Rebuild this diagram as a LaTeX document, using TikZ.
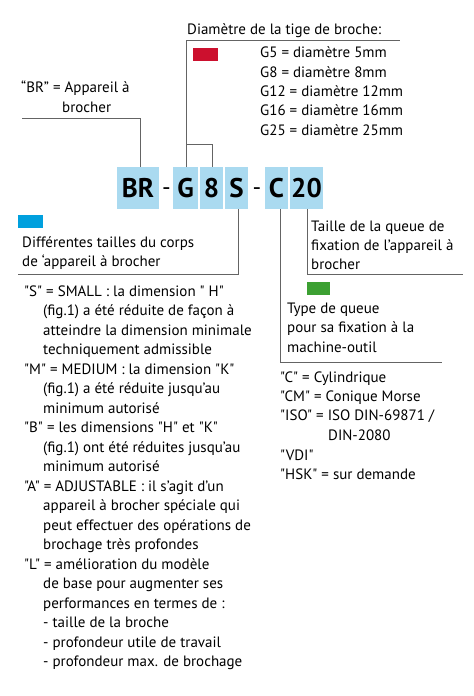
\documentclass[tikz,border=0pt]{standalone}
\usepackage{fontspec}
\setmainfont{PT Sans}[Ligatures=TeXOff]
\definecolor{boxblue}{RGB}{170,218,240}
\definecolor{redm}{RGB}{204,16,46}
\definecolor{bluem}{RGB}{0,160,222}
\definecolor{greenm}{RGB}{60,160,50}
\definecolor{linegray}{RGB}{100,100,100}
\begin{document}
\begin{tikzpicture}[x=1bp,y=-1bp,
  txt/.style={anchor=base west,inner sep=0pt,font=\fontsize{15bp}{18bp}\selectfont},
  box/.style={fill=boxblue,minimum height=42bp,inner sep=0pt,font=\fontsize{27bp}{30bp}\selectfont\bfseries},
  hyph/.style={anchor=base,inner sep=0pt,font=\fontsize{24bp}{28bp}\selectfont},
  conn/.style={draw=linegray,line width=0.8bp}]
\useasboundingbox (0,0) rectangle (474,696);
% code boxes
\node[box,minimum width=42bp] (BR) at (138,188) {BR};
\node[hyph] (d1) at (166.5,195) {-};
\node[box,minimum width=25bp] (G) at (185.5,188) {G};
\node[box,minimum width=23bp] (N8) at (211.5,188) {8};
\node[box,minimum width=23bp] (S) at (236.5,188) {S};
\node[hyph] (d2) at (257,195) {-};
\node[box,minimum width=23bp] (C) at (276.5,188) {C};
\node[box,minimum width=33bp] (N20) at (306.5,188) {20};
% top-left label
\node[txt] (br1) at (21,93) {“BR” = Appareil à};
\node[txt] (br2) at (62,113) {brocher};
\coordinate (brL) at (22,118);
\draw[conn] (BR.north -| 140,0) |- (brL);
% diameter
\node[txt] (dt) at (187,35) {Diamètre de la tige de broche:};
\coordinate (dtR) at (400,40);
\draw[conn] (G.north -| 186,0) |- (dtR);
\coordinate (gb) at (186,144);
\draw[conn] (gb) -| (N8.north -| 212,0);
\fill[redm] (193,48) rectangle (218,61);
\node[txt] (g5) at (260,58) {G5 = diamètre 5mm};
\node[txt] (g8) at (260,77.3) {G8 = diamètre 8mm};
\node[txt] (g12) at (260,96.6) {G12 = diamètre 12mm};
\node[txt] (g16) at (260,116) {G16 = diamètre 16mm};
\node[txt] (g25) at (260,135.3) {G25 = diamètre 25mm};
% body sizes
\fill[bluem] (18,215) rectangle (43,228);
\node[txt] (df1) at (22,247) {Différentes tailles du corps};
\node[txt] (df2) at (22,266) {de ‘appareil à brocher};
\coordinate (sL) at (18,274);
\draw[conn] (S.south -| 238,0) |- (sL);
% left list
\foreach \t/\xx [count=\i from 0] in {
 {"S" = SMALL : la dimension " H"}/24,
 {(fig.1) a été réduite de façon à}/43,
 {atteindre la dimension minimale}/43,
 {techniquement admissible}/43,
 {"M" = MEDIUM : la dimension "K"}/24,
 {(fig.1) a été réduite jusqu’au}/43,
 {minimum autorisé}/43,
 {"B" = les dimensions "H" et "K"}/24,
 {(fig.1) ont été réduites jusqu’au}/43,
 {minimum autorisé}/43,
 {"A" = ADJUSTABLE : il s’agit d’un}/24,
 {appareil à brocher spéciale qui}/43,
 {peut effectuer des opérations de}/43,
 {brochage très profondes}/43,
 {"L" = amélioration du modèle}/24,
 {de base pour augmenter ses}/43,
 {performances en termes de :}/43,
 {- taille de la broche}/43,
 {- profondeur utile de travail}/43,
 {- profondeur max. de brochage}/43}
 {\node[txt] (l\i) at (\xx,296+19.5*\i) {\t};}
% shank size
\node[txt] (ts1) at (311,231) {Taille de la queue de};
\node[txt] (ts2) at (311,250) {fixation de l’appareil à};
\node[txt] (ts3) at (311,269) {brocher};
\coordinate (tsR) at (463,274);
\draw[conn] (N20.south -| 307,0) |- (tsR);
% shank type
\fill[greenm] (307,282) rectangle (330,295);
\node[txt] (ty1) at (287,313) {Type de queue};
\node[txt] (ty2) at (287,332) {pour sa fixation à la};
\node[txt] (ty3) at (287,352) {machine-outil};
\coordinate (tyR) at (442,362);
\draw[conn] (C.south -| 280,0) |- (tyR);
\node[txt] (c1) at (280,382) {"C" = Cylindrique};
\node[txt] (c2) at (280,401) {"CM" = Conique Morse};
\node[txt] (c3) at (280,420) {"ISO" = ISO DIN-69871 /};
\node[txt] (c4) at (328,440) {DIN-2080};
\node[txt] (c5) at (280,460) {"VDI"};
\node[txt] (c6) at (280,479) {"HSK" = sur demande};
\end{tikzpicture}
\end{document}
